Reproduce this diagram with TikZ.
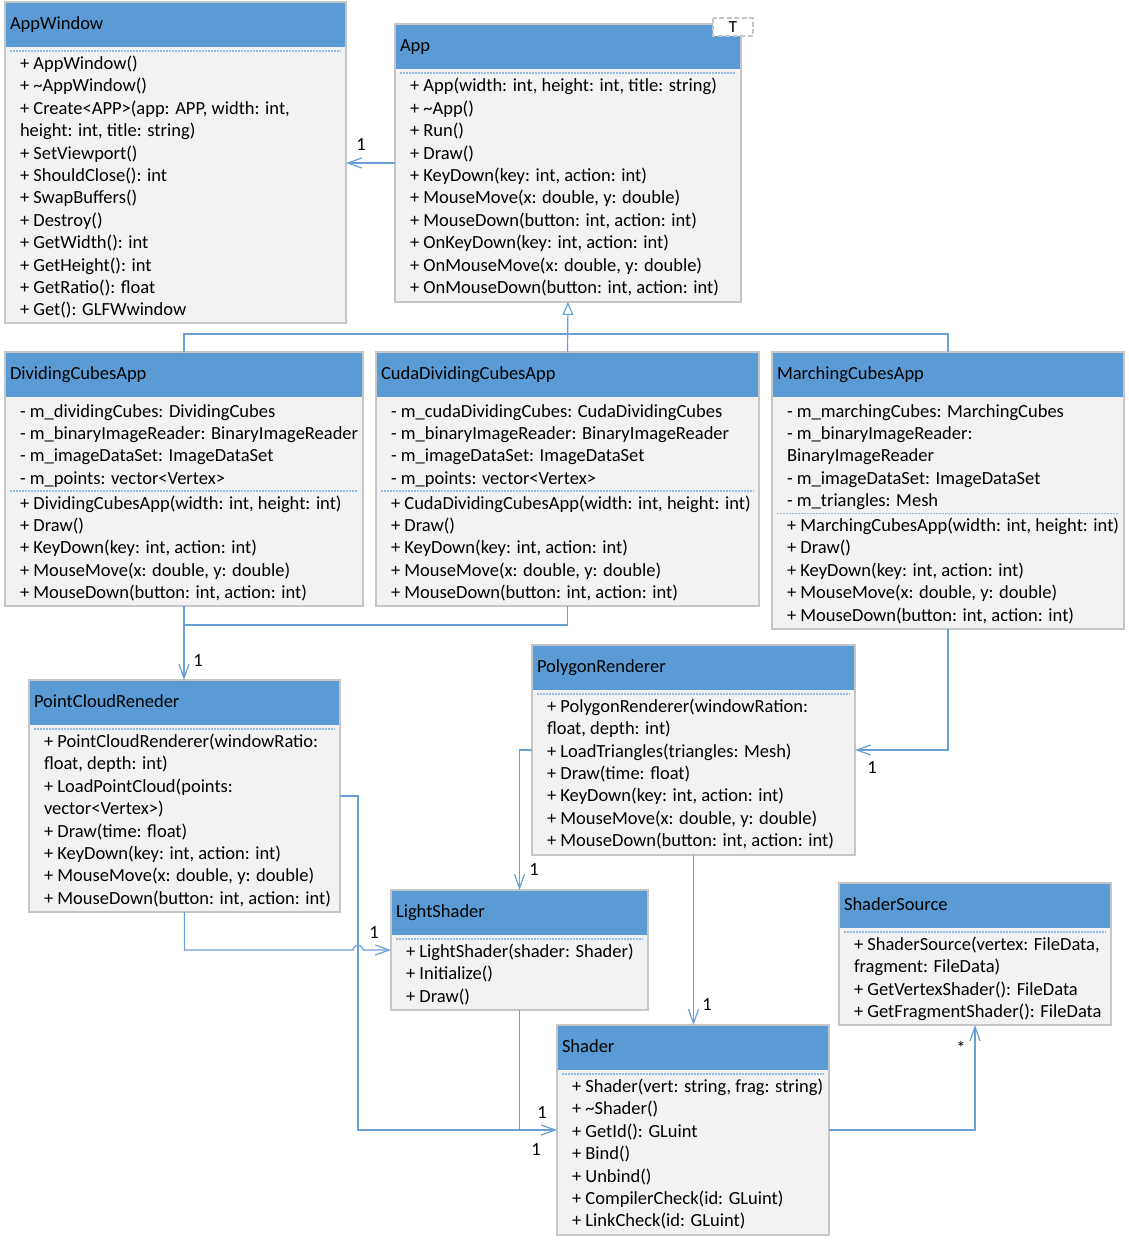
\documentclass[tikz,border=0pt]{standalone}
\usepackage{fontspec}
\setmainfont{Carlito}
\usetikzlibrary{arrows.meta,calc}
\definecolor{headc}{HTML}{5B9BD5}
\definecolor{bodyc}{HTML}{F2F2F2}
\definecolor{bordc}{HTML}{C6C6C6}
\definecolor{lnc}{HTML}{6A9FD8}
\definecolor{sepc}{HTML}{8FBBE6}
\tikzset{
  boxbody/.style={fill=bodyc, inner sep=0pt, outer sep=0pt},
  bord/.style={draw=bordc, line width=1.2pt},
  txt/.style={anchor=base west, inner sep=0pt, outer sep=0pt, font=\fontsize{18.5}{22.4}\selectfont, text=black},
  lbl/.style={anchor=base, inner sep=0pt, outer sep=0pt, font=\fontsize{18.5}{22.4}\selectfont, text=black},
  sepline/.style={draw=sepc, line width=1.1pt, dash pattern=on 1.6pt off 1.4pt},
  conn/.style={draw=lnc, line width=1.2pt},
  assoc/.style={conn, -{Straight Barb[length=14pt,width=10pt,line width=1.2pt]}},
  inherit/.style={conn, -{Triangle[open,length=13pt,width=11pt,line width=1.2pt,fill=white]}},
}
% #1 name, #2 x, #3 y, #4 w, #5 h, #6 title
\newcommand\umlclass[6]{%
  \node[boxbody, minimum width=#4pt, minimum height=#5pt, anchor=north west] (#1) at (#2,#3) {};
  \fill[headc] (#2,#3) rectangle ({#2+#4},{#3+44.5});
  \draw[bord] (#1.north west) rectangle (#1.south east);
  \node[txt] (#1-t) at ({#2+5},{#3+27}) {#6};
}
% #1 x, #2 y, #3 w
\newcommand\umlsep[3]{\draw[sepline] ({#1+5},#2) -- ({#1+#3-5},#2);}
% #1 prefix, #2 x, #3 first baseline, #4 list
\newcommand\umllines[4]{%
  \foreach \cl [count=\i] in {#4} {\node[txt] (#1\i) at ({#2+15},{#3+(\i-1)*22.4}) {\cl};}%
}
\newcommand\tld{\textasciitilde{}}
\begin{document}
\begin{tikzpicture}[x=1pt,y=-1pt]
\useasboundingbox[fill=white] (0,0) rectangle (1129,1242);

% AppWindow
\umlclass{aw}{5}{2}{341}{321}{AppWindow}
\umlsep{5}{51}{341}
\umllines{aw-l}{5}{69.5}{{+ AppWindow()},{+ \tld AppWindow()},{+ Create<APP>(app: APP, width: int,},{height: int, title: string)},{+ SetViewport()},{+ ShouldClose(): int},{+ SwapBuffers()},{+ Destroy()},{+ GetWidth(): int},{+ GetHeight(): int},{+ GetRatio(): float},{+ Get(): GLFWwindow}}

% App
\umlclass{app}{395}{24}{346}{278}{App}
\umlsep{395}{73}{346}
\umllines{app-l}{395}{91.8}{{+ App(width: int, height: int, title: string)},{+ \tld App()},{+ Run()},{+ Draw()},{+ KeyDown(key: int, action: int)},{+ MouseMove(x: double, y: double)},{+ MouseDown(button: int, action: int)},{+ OnKeyDown(key: int, action: int)},{+ OnMouseMove(x: double, y: double)},{+ OnMouseDown(button: int, action: int)}}
\draw[draw=bordc, line width=1.2pt, dash pattern=on 5pt off 2.5pt, fill=white] (713,18) rectangle (753,36);
\node[anchor=center, inner sep=0pt, font=\fontsize{17}{20}\selectfont] (app-T) at (733,27.5) {T};

% DividingCubesApp
\umlclass{dca}{5}{352}{358}{254}{DividingCubesApp}
\umllines{dca-a}{5}{417}{{- m\_dividingCubes: DividingCubes},{- m\_binaryImageReader: BinaryImageReader},{- m\_imageDataSet: ImageDataSet},{- m\_points: vector<Vertex>}}
\umlsep{5}{491}{358}
\umllines{dca-o}{5}{509}{{+ DividingCubesApp(width: int, height: int)},{+ Draw()},{+ KeyDown(key: int, action: int)},{+ MouseMove(x: double, y: double)},{+ MouseDown(button: int, action: int)}}

% CudaDividingCubesApp
\umlclass{cda}{376}{352}{383}{254}{CudaDividingCubesApp}
\umllines{cda-a}{376}{417}{{- m\_cudaDividingCubes: CudaDividingCubes},{- m\_binaryImageReader: BinaryImageReader},{- m\_imageDataSet: ImageDataSet},{- m\_points: vector<Vertex>}}
\umlsep{376}{491}{383}
\umllines{cda-o}{376}{509}{{+ CudaDividingCubesApp(width: int, height: int)},{+ Draw()},{+ KeyDown(key: int, action: int)},{+ MouseMove(x: double, y: double)},{+ MouseDown(button: int, action: int)}}

% MarchingCubesApp
\umlclass{mca}{772}{352}{352}{277}{MarchingCubesApp}
\umllines{mca-a}{772}{417}{{- m\_marchingCubes: MarchingCubes},{- m\_binaryImageReader:},{BinaryImageReader},{- m\_imageDataSet: ImageDataSet},{- m\_triangles: Mesh}}
\umlsep{772}{513.5}{352}
\umllines{mca-o}{772}{531.4}{{+ MarchingCubesApp(width: int, height: int)},{+ Draw()},{+ KeyDown(key: int, action: int)},{+ MouseMove(x: double, y: double)},{+ MouseDown(button: int, action: int)}}

% PointCloudReneder
\umlclass{pcr}{29}{680}{311}{232}{PointCloudReneder}
\umlsep{29}{729}{311}
\umllines{pcr-l}{29}{747.5}{{+ PointCloudRenderer(windowRatio:},{float, depth: int)},{+ LoadPointCloud(points:},{vector<Vertex>)},{+ Draw(time: float)},{+ KeyDown(key: int, action: int)},{+ MouseMove(x: double, y: double)},{+ MouseDown(button: int, action: int)}}

% PolygonRenderer
\umlclass{pr}{532}{645}{323}{210}{PolygonRenderer}
\umlsep{532}{694}{323}
\umllines{pr-l}{532}{712.3}{{+ PolygonRenderer(windowRation:},{float, depth: int)},{+ LoadTriangles(triangles: Mesh)},{+ Draw(time: float)},{+ KeyDown(key: int, action: int)},{+ MouseMove(x: double, y: double)},{+ MouseDown(button: int, action: int)}}

% LightShader
\umlclass{ls}{391}{890}{257}{120}{LightShader}
\umlsep{391}{939}{257}
\umllines{ls-l}{391}{957.5}{{+ LightShader(shader: Shader)},{+ Initialize()},{+ Draw()}}

% Shader
\umlclass{sh}{557}{1025}{272}{210}{Shader}
\umlsep{557}{1074}{272}
\umllines{sh-l}{557}{1092.5}{{+ Shader(vert: string, frag: string)},{+ \tld Shader()},{+ GetId(): GLuint},{+ Bind()},{+ Unbind()},{+ CompilerCheck(id: GLuint)},{+ LinkCheck(id: GLuint)}}

% ShaderSource
\umlclass{ss}{839}{883}{272}{142}{ShaderSource}
\umlsep{839}{932}{272}
\umllines{ss-l}{839}{950.5}{{+ ShaderSource(vertex: FileData,},{fragment: FileData)},{+ GetVertexShader(): FileData},{+ GetFragmentShader(): FileData}}

% ---------- connectors ----------
\coordinate (inh) at (0,334);
\coordinate (jn) at (0,625);
\coordinate (vx) at (358,0);
\coordinate (hop) at (358,950);

% App -> AppWindow
\draw[assoc] (app.west) -- (aw.east |- app.west);
\node[lbl] (l1) at (361,150) {1};

% inheritance
\draw[conn] (dca.north) -- (dca.north |- inh) -- (mca.north |- inh) -- (mca.north);
\draw[inherit] (cda.north) -- (app.south);

% Dividing / Cuda -> PointCloud
\draw[conn] (cda.south) |- (dca.south |- jn);
\draw[assoc] (dca.south) -- (dca.south |- pcr.north);
\node[lbl] (l2) at (198,666) {1};

% Marching -> Polygon
\draw[assoc] (mca.south) |- (pr.east);
\node[lbl] (l3) at (872,773) {1};

% Polygon -> LightShader
\draw[assoc] (pr.west) -| (ls.north);
\node[lbl] (l4) at (534,875) {1};

% PointCloud -> LightShader (with line hop)
\draw[assoc] (pcr.south) |- ($(hop)+(-5,0)$) arc[start angle=180, end angle=0, radius=5pt] -- (ls.west);
\node[lbl] (l5) at (374,938) {1};

% PointCloud -> Shader, LightShader -> Shader
\draw[assoc] (pcr.east) -- (pcr.east -| vx) |- (sh.west);
\draw[conn] (ls.south) -- (ls.south |- sh.west);
\node[lbl] (l6) at (542,1118) {1};
\node[lbl] (l7) at (536,1155) {1};

% Polygon -> Shader
\draw[assoc] (pr.south) -- (pr.south |- sh.north);
\node[lbl] (l8) at (707,1010) {1};

% Shader -> ShaderSource
\draw[assoc] (sh.east) -| (ss.south);
\node[lbl] (l9) at (961,1054) {*};
\end{tikzpicture}
\end{document}
